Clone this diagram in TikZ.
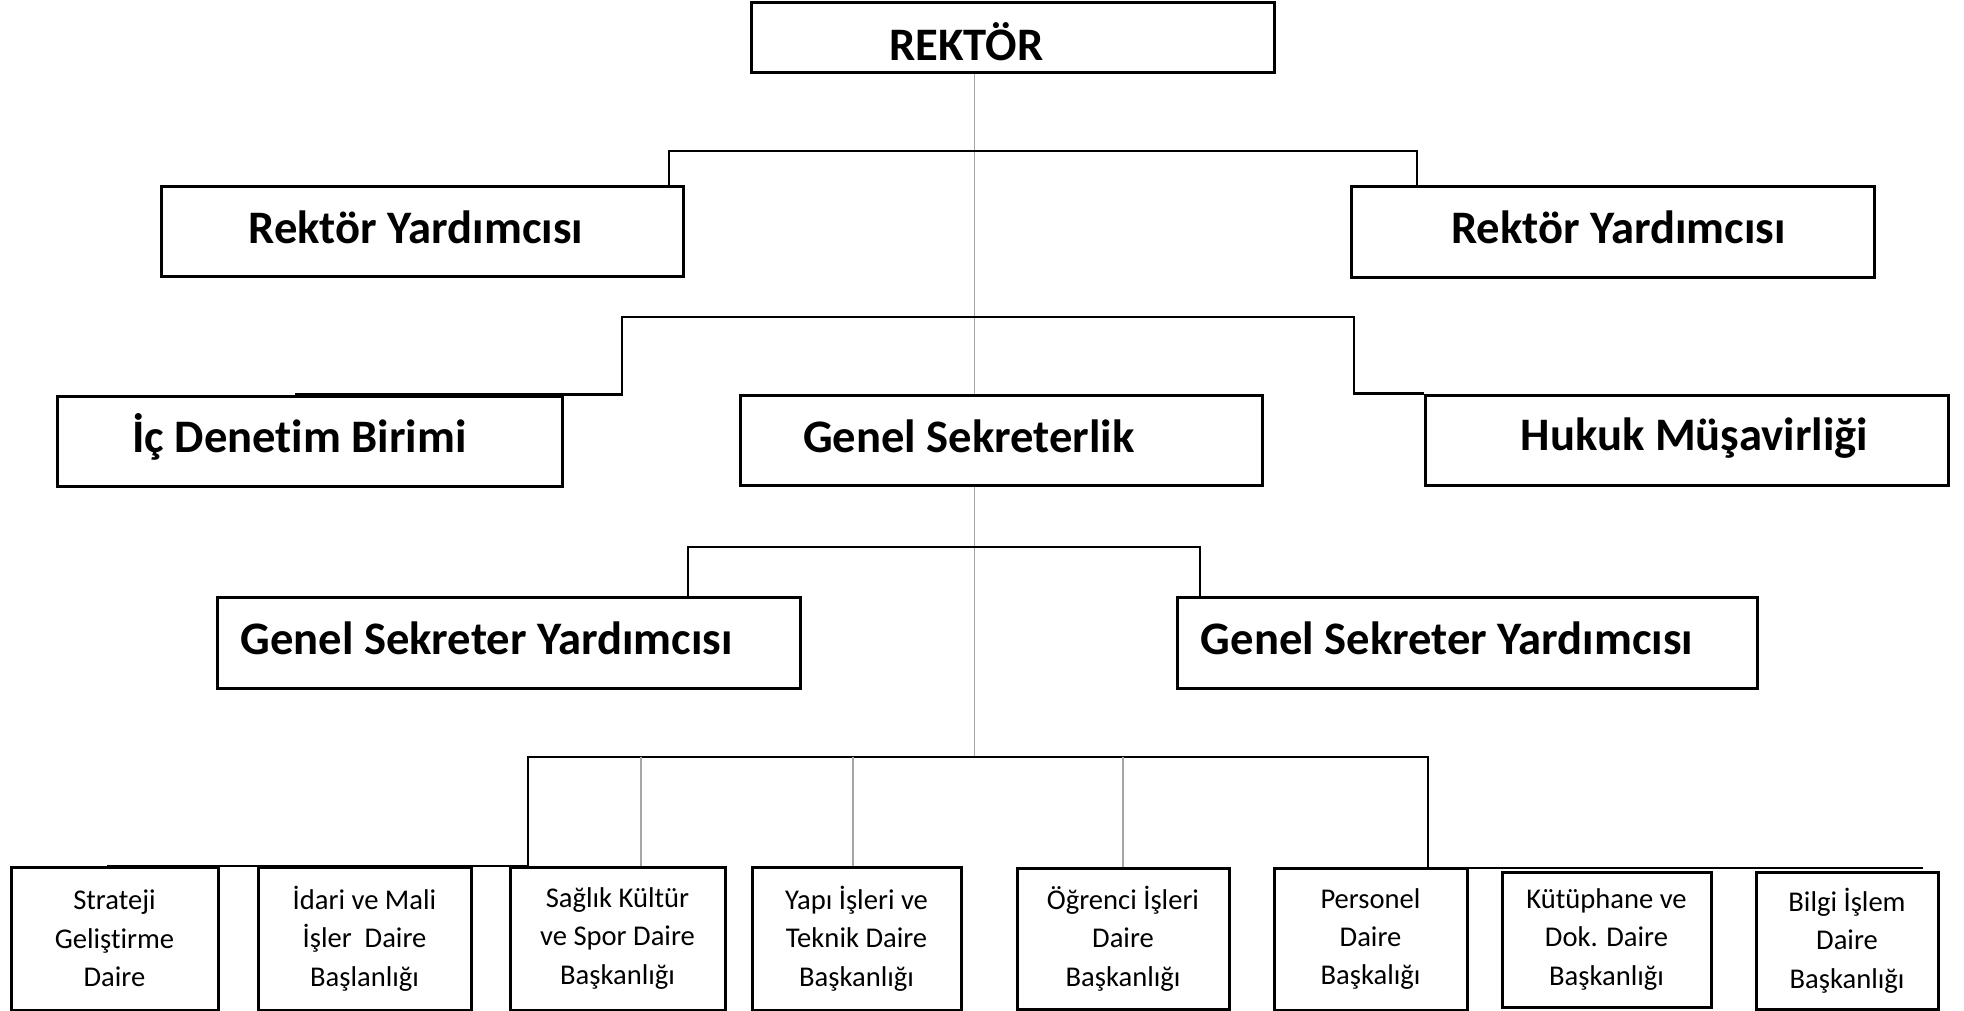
\documentclass[tikz,border=0pt]{standalone}
\usepackage{fontspec}
\setmainfont{Carlito}[Ligatures=NoCommon]
\usepackage{xcolor}
\definecolor{trunkgray}{RGB}{165,165,165}
\tikzset{headbox/.style={draw=black, line width=1.5pt, inner sep=0pt},
headtext/.style={font=\bfseries\fontsize{23.3}{28}\selectfont},
unitbox/.style={draw=black, line width=1.5pt, inner sep=0pt, align=center, font=\fontsize{14.3}{19.2}\selectfont}}

\begin{document}
\begin{tikzpicture}[
        x=0.5pt, y=-0.5pt,
        bus/.style={draw=black, line width=1.25pt},
        trunk/.style={draw=trunkgray, line width=0.7pt}
    ]
        \useasboundingbox (0,0) rectangle (1964,1011);
        % Top boxes
        \node[headbox, minimum width=261.5pt, minimum height=35pt, label={[headtext, xshift=-23pt, yshift=-2pt]center:REKTÖR}] (rektor) at (1012.5, 38) {};
        \node[headbox, minimum width=261pt, minimum height=45pt, label={[headtext, xshift=-3pt, yshift=2pt]center:Rektör Yardımcısı}] (ry1) at (422, 231) {};
        \node[headbox, minimum width=261.5pt, minimum height=45.5pt, label={[headtext, xshift=3pt, yshift=2pt]center:Rektör Yardımcısı}] (ry2) at (1612.5, 231.5) {};
        \node[headbox, minimum width=252.5pt, minimum height=45pt, label={[headtext, xshift=-5pt, yshift=2pt]center:İç Denetim Birimi}] (icd) at (309.5, 441) {};
        \node[headbox, minimum width=261pt, minimum height=45pt, label={[headtext, xshift=-16pt, yshift=2pt]center:Genel Sekreterlik}] (gs) at (1001, 440) {};
        \node[headbox, minimum width=261.5pt, minimum height=45pt, label={[headtext, xshift=4pt, yshift=1pt]center:Hukuk Müşavirliği}] (hm) at (1686.5, 440) {};
        \node[headbox, minimum width=291.5pt, minimum height=45.5pt, label={[headtext, xshift=-11pt, yshift=2pt]center:Genel Sekreter Yardımcısı}] (gsy1) at (508.5, 642.5) {};
        \node[headbox, minimum width=290pt, minimum height=45.5pt, label={[headtext, xshift=-10pt, yshift=2pt]center:Genel Sekreter Yardımcısı}] (gsy2) at (1467, 642.5) {};
        % Bottom boxes
        \node[unitbox, minimum width=103.5pt, minimum height=71.5pt] (b1) at (114.5, 938.5) {Strateji\\Geliştirme\\Daire};
        \node[unitbox, minimum width=106.5pt, minimum height=71.5pt] (b2) at (364.5, 938.5) {İdari ve Mali\\İşler\ \ Daire\\Başlanlığı};
        \node[unitbox, minimum width=107.5pt, minimum height=71.5pt] (b3) at (617.5, 938.5) {Sağlık Kültür\\ve Spor Daire\\Başkanlığı};
        \node[unitbox, minimum width=104.5pt, minimum height=71.5pt] (b4) at (856.5, 938.5) {Yapı İşleri ve\\Teknik Daire\\Başkanlığı};
        \node[unitbox, minimum width=106pt, minimum height=70.5pt] (b5) at (1123, 938.5) {Öğrenci İşleri\\Daire\\Başkanlığı};
        \node[unitbox, minimum width=96.5pt, minimum height=71pt] (b6) at (1370.5, 939) {Personel\\Daire\\Başkalığı};
        \node[unitbox, minimum width=104.5pt, minimum height=67.5pt] (b7) at (1606.5, 939.5) {Kütüphane ve\\Dok. Daire\\Başkanlığı};
        \node[unitbox, minimum width=91pt, minimum height=68.5pt] (b8) at (1847, 940.5) {Bilgi İşlem\\Daire\\Başkanlığı};
        % Bus points
        \coordinate (stem) at (974.5, 757);
        \coordinate (ryL) at (669, 151);
        \coordinate (ryR) at (1417, 151);
        \coordinate (adL) at (622, 317);
        \coordinate (adR) at (1354, 317);
        \coordinate (icdtip) at (295, 395);
        \coordinate (gsyL) at (688, 547);
        \coordinate (gsyR) at (1200, 547);
        \coordinate (dbL) at (528, 757);
        \coordinate (dbR) at (1428, 757);
        \coordinate (dbtipL) at (107, 866);
        \coordinate (dbtipR) at (1923, 868);
        % Lines
        \draw[trunk] (stem |- rektor.south) -- (stem |- gs.north);
        \draw[trunk] (stem |- gs.south) -- (stem);
        \draw[bus] (ryL |- ry1.north) -- (ryL) -- (ryR) -- (ryR |- ry2.north);
        \draw[bus] (icdtip |- icd.north) -- (adL |- icd.north) -- (adL) -- (adR) -- (adR |- hm.north) -- (hm.north west);
        \draw[bus] (gsyL |- gsy1.north) -- (gsyL) -- (gsyR) -- (gsyR |- gsy2.north);
        \draw[bus] (dbtipL) -- (dbL |- dbtipL) -- (dbL) -- (dbR) -- (dbR |- dbtipR) -- (dbtipR);
        \foreach \x/\b in {641/b3, 853/b4, 1123/b5} {
            \draw[trunk] (\x, 757) -- (\x, 757 |- \b.north);
        }
    \end{tikzpicture}
\end{document}
